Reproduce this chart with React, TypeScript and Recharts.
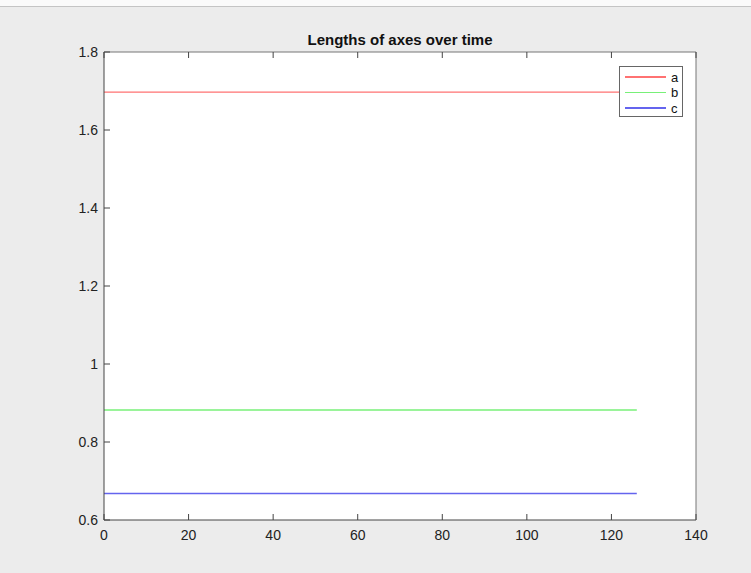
import { LineChart, Line, XAxis, YAxis } from "recharts";

// time samples and axis lengths
const times = [0, 126];
const aLengths = [1.697, 1.697];
const bLengths = [0.882, 0.882];
const cLengths = [0.668, 0.668];

const xTicks = [0, 20, 40, 60, 80, 100, 120, 140];
const yTicks = [0.6, 0.8, 1, 1.2, 1.4, 1.6, 1.8];

const series = [
  { key: "a", color: "#ff7272" },
  { key: "b", color: "#78f078" },
  { key: "c", color: "#6464ee" },
];

const data = times.map((t, i) => ({ t, a: aLengths[i], b: bLengths[i], c: cLengths[i] }));

const FONT = "'Liberation Sans', Arial, Helvetica, sans-serif";
const TICK_LEN = 6;
const TICK_COLOR = "#444";

// MATLAB-style ticks point into the plot box
const BottomTick = ({ x, y, payload }: any) => (
  <g>
    <line x1={x} y1={y} x2={x} y2={y - TICK_LEN} stroke={TICK_COLOR} />
    <text x={x} y={y + 20} textAnchor="middle" fontSize={14} fill="#222" fontFamily={FONT}>
      {payload.value}
    </text>
  </g>
);
const LeftTick = ({ x, y, payload }: any) => (
  <g>
    <line x1={x} y1={y} x2={x + TICK_LEN} y2={y} stroke={TICK_COLOR} />
    <text x={x - 6} y={y + 5} textAnchor="end" fontSize={14} fill="#222" fontFamily={FONT}>
      {payload.value}
    </text>
  </g>
);
const TopTick = ({ x, y }: any) => <line x1={x} y1={y} x2={x} y2={y + TICK_LEN} stroke={TICK_COLOR} />;
const RightTick = ({ x, y }: any) => <line x1={x} y1={y} x2={x - TICK_LEN} y2={y} stroke={TICK_COLOR} />;

export default function App() {
  return (
    <div
      style={{
        position: "absolute",
        left: 0,
        top: 0,
        width: 751,
        height: 573,
        background: "#ececec",
        fontFamily: FONT,
      }}
    >
      <div style={{ position: "absolute", left: 0, top: 0, width: 751, height: 6, background: "#fafafa", borderBottom: "1px solid #c4c4c4" }} />
      <div
        style={{
          position: "absolute",
          left: 104,
          width: 592,
          top: 31,
          textAlign: "center",
          fontSize: 15,
          fontWeight: "bold",
          color: "#111",
        }}
      >
        Lengths of axes over time
      </div>
      <div style={{ position: "absolute", left: 104, top: 52, width: 592, height: 468, background: "#fff" }} />
      <div style={{ position: "absolute", left: 0, top: 0 }}>
        <LineChart width={751} height={573} data={data} margin={{ top: 51, right: 54, bottom: 0, left: 0 }}>
          <XAxis
            xAxisId="bottom"
            dataKey="t"
            type="number"
            domain={[0, 140]}
            ticks={xTicks}
            orientation="bottom"
            height={53}
            tickSize={0}
            tickMargin={0}
            tickLine={false}
            axisLine={{ stroke: "#444" }}
            tick={<BottomTick />}
            interval={0}
          />
          <XAxis
            xAxisId="top"
            dataKey="t"
            type="number"
            domain={[0, 140]}
            ticks={xTicks}
            orientation="top"
            height={1}
            tickSize={0}
            tickMargin={0}
            tickLine={false}
            axisLine={{ stroke: "#777" }}
            tick={<TopTick />}
            interval={0}
          />
          <YAxis
            yAxisId="left"
            type="number"
            domain={[0.6, 1.8]}
            ticks={yTicks}
            orientation="left"
            width={104}
            tickSize={0}
            tickMargin={0}
            tickLine={false}
            axisLine={{ stroke: "#444" }}
            tick={<LeftTick />}
            interval={0}
          />
          <YAxis
            yAxisId="right"
            type="number"
            domain={[0.6, 1.8]}
            ticks={yTicks}
            orientation="right"
            width={1}
            tickSize={0}
            tickMargin={0}
            tickLine={false}
            axisLine={{ stroke: "#777" }}
            tick={<RightTick />}
            interval={0}
          />
          {series.map((s) => (
            <Line
              key={s.key}
              xAxisId="bottom"
              yAxisId="left"
              dataKey={s.key}
              stroke={s.color}
              strokeWidth={1.3}
              dot={false}
              isAnimationActive={false}
            />
          ))}
        </LineChart>
      </div>
      {/* legend box */}
      <div
        style={{
          position: "absolute",
          left: 619,
          top: 66,
          width: 62,
          height: 49,
          background: "#fff",
          border: "1px solid #666",
        }}
      >
        {series.map((s, i) => (
          <div key={s.key} style={{ position: "absolute", left: 5, top: 3 + i * 15.5, height: 14, display: "flex", alignItems: "center" }}>
            <div style={{ width: 41, height: 1.3, background: s.color }} />
            <span style={{ marginLeft: 5, fontSize: 13, color: "#111" }}>{s.key}</span>
          </div>
        ))}
      </div>
    </div>
  );
}
